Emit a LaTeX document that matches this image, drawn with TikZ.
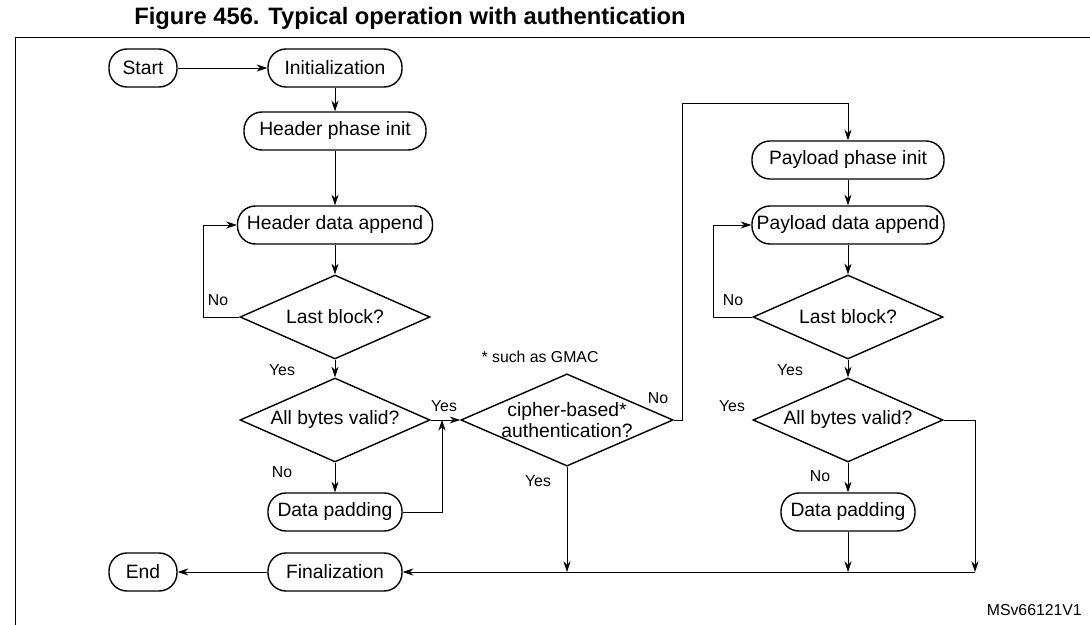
\documentclass[tikz,border=0pt]{standalone}
\usepackage{fontspec}
\setmainfont{Liberation Sans}
\usetikzlibrary{shapes.geometric,arrows.meta}
\begin{document}
\begin{tikzpicture}[x=0.02cm,y=-0.02cm,
 box/.style={draw,rounded corners=0.36cm,minimum height=0.76cm,thick,inner sep=2pt,font=\fontsize{11}{12}\selectfont},
 bw/.style={minimum width=#1*0.02cm},
 dia/.style={draw,diamond,aspect=2.3,thick,inner sep=0pt,minimum width=3.8cm,minimum height=1.68cm,font=\fontsize{11}{12}\selectfont},
 lbl/.style={font=\fontsize{9}{10}\selectfont},
 ar/.style={-{Stealth[length=6pt,width=4pt]},thin}]
\useasboundingbox (0,0) rectangle (1090,625);
\node[font=\bfseries\fontsize{13.5}{15}\selectfont] (title) at (410,18) {Figure 456. Typical operation with authentication};
\draw[thin] (15,625) -- (15,37) -- (1090,37);
\node[box,bw=68] (start) at (143,68) {Start};
\node[box,bw=134] (init) at (335,68) {Initialization};
\node[box,bw=182] (hpi) at (335,131) {Header phase init};
\node[box,bw=195] (hda) at (335,225) {Header data append};
\node[dia] (lb1) at (335,317) {Last block?};
\node[dia] (ab1) at (335,420) {All bytes valid?};
\node[box,bw=134] (dp1) at (335,512) {Data padding};
\node[box,bw=134] (fin) at (335,572) {Finalization};
\node[box,bw=68] (end) at (143,572) {End};
\node[dia,minimum width=3.86cm,align=center] (cb) at (567,420) {cipher-based*\\authentication?};
\node[box,bw=192] (ppi) at (848,160) {Payload phase init};
\node[box,bw=192] (pda) at (848,225) {Payload data append};
\node[dia] (lb2) at (848,317) {Last block?};
\node[dia] (ab2) at (848,420) {All bytes valid?};
\node[box,bw=134] (dp2) at (848,512) {Data padding};
\coordinate (j1) at (442,420);
\coordinate (jc) at (567,572);
\coordinate (jp) at (848,572);
\coordinate (jr) at (975,572);
\draw[ar] (start) -- (init);
\draw[ar] (init) -- (hpi);
\draw[ar] (hpi) -- (hda);
\draw[ar] (hda) -- (lb1);
\draw[ar] (lb1.west) -- (203,317) -- (203,225) -- (hda.west);
\draw[ar] (lb1) -- (ab1);
\draw[ar] (ab1) -- (dp1);
\draw[ar] (dp1.east) -| (j1);
\draw[ar] (ab1.east) -- (cb.west);
\draw[ar] (cb.east) -- (682,420) -- (682,103) -| (ppi.north);
\draw[ar] (cb.south) -- (jc);
\draw[ar] (ppi) -- (pda);
\draw[ar] (pda) -- (lb2);
\draw[ar] (lb2.west) -- (713,317) -- (713,225) -- (pda.west);
\draw[ar] (lb2) -- (ab2);
\draw[ar] (ab2) -- (dp2);
\draw[ar] (dp2) -- (jp);
\draw[ar] (ab2.east) -- (975,420) -- (jr);
\draw[ar] (jr) -- (fin.east);
\draw[ar] (fin) -- (end);
\node[lbl] (n1) at (218,300) {No};
\node[lbl] (y1) at (282,370) {Yes};
\node[lbl] (n2) at (282,472) {No};
\node[lbl] (y2) at (444,406) {Yes};
\node[lbl] (gm) at (540,357) {* such as GMAC};
\node[lbl] (n3) at (658,398) {No};
\node[lbl] (y3) at (538,481) {Yes};
\node[lbl] (n4) at (733,300) {No};
\node[lbl] (y4) at (790,370) {Yes};
\node[lbl] (y5) at (732,406) {Yes};
\node[lbl] (n5) at (820,476) {No};
\node[lbl,anchor=east] (ms) at (1088,610) {MSv66121V1};
\end{tikzpicture}
\end{document}
